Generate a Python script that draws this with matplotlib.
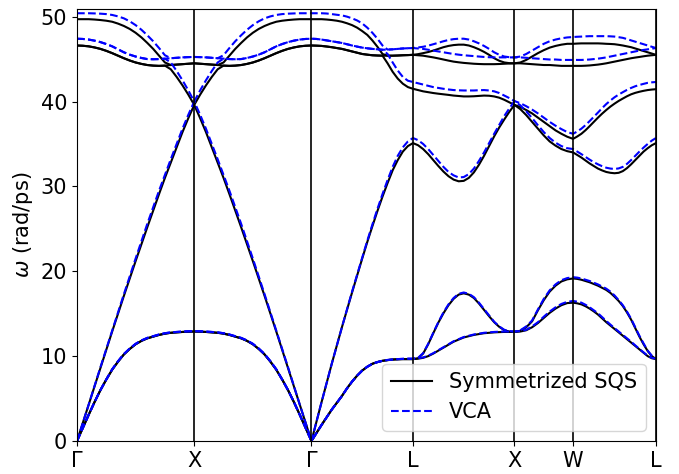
import numpy as np
import matplotlib
matplotlib.use("Agg")
import matplotlib.pyplot as plt

# high-symmetry path
labels = ["Γ", "X", "Γ", "L", "X", "W", "L"]
seg_lengths = [1.0, 1.0, 0.866, 0.866, 0.5, 0.707]
frac21 = [0.0, 0.05, 0.1, 0.15, 0.2, 0.25, 0.3, 0.35, 0.4, 0.45, 0.5,
          0.55, 0.6, 0.65, 0.7, 0.75, 0.8, 0.85, 0.9, 0.95, 1.0]
frac11 = [0.0, 0.1, 0.2, 0.3, 0.4, 0.5, 0.6, 0.7, 0.8, 0.9, 1.0]

# ---------------- Symmetrized SQS (black) ----------------
sqs_GX = [
    [0, 1.55, 3.1, 4.6, 6.0, 7.25, 8.4, 9.35, 10.2, 10.85, 11.4, 11.8, 12.1, 12.3, 12.5, 12.65, 12.75, 12.8, 12.85, 12.88, 12.9],
    [0, 1.55, 3.1, 4.6, 6.0, 7.25, 8.4, 9.35, 10.2, 10.85, 11.4, 11.8, 12.1, 12.3, 12.5, 12.65, 12.75, 12.8, 12.85, 12.88, 12.9],
    [0, 2.15, 4.3, 6.45, 8.6, 10.75, 12.9, 15.0, 17.1, 19.15, 21.2, 23.2, 25.2, 27.15, 29.1, 31.0, 32.8, 34.6, 36.4, 38.05, 39.6],
    [46.6, 46.57, 46.5, 46.37, 46.2, 45.97, 45.7, 45.4, 45.1, 44.83, 44.6, 44.43, 44.3, 44.23, 44.2, 44.23, 44.3, 44.35, 44.4, 44.45, 44.5],
    [46.6, 46.57, 46.5, 46.37, 46.2, 45.97, 45.7, 45.4, 45.1, 44.83, 44.6, 44.43, 44.3, 44.23, 44.2, 44.23, 44.3, 44.35, 44.4, 44.45, 44.5],
    [49.7, 49.7, 49.7, 49.66, 49.6, 49.52, 49.4, 49.18, 48.9, 48.55, 48.1, 47.55, 46.9, 46.2, 45.4, 44.6, 43.8, 42.9, 41.9, 40.8, 39.6],
]
sqs_XG = [
    [12.9, 12.88, 12.85, 12.8, 12.75, 12.65, 12.5, 12.3, 12.1, 11.8, 11.4, 10.85, 10.2, 9.35, 8.4, 7.25, 6.0, 4.6, 3.1, 1.55, 0],
    [12.9, 12.88, 12.85, 12.8, 12.75, 12.65, 12.5, 12.3, 12.1, 11.8, 11.4, 10.85, 10.2, 9.35, 8.4, 7.25, 6.0, 4.6, 3.1, 1.55, 0],
    [39.6, 38.05, 36.4, 34.6, 32.8, 31.0, 29.1, 27.15, 25.2, 23.2, 21.2, 19.15, 17.1, 15.0, 12.9, 10.75, 8.6, 6.45, 4.3, 2.15, 0],
    [44.5, 44.45, 44.4, 44.35, 44.3, 44.23, 44.2, 44.23, 44.3, 44.43, 44.6, 44.83, 45.1, 45.4, 45.7, 45.97, 46.2, 46.37, 46.5, 46.57, 46.6],
    [44.5, 44.45, 44.4, 44.35, 44.3, 44.23, 44.2, 44.23, 44.3, 44.43, 44.6, 44.83, 45.1, 45.4, 45.7, 45.97, 46.2, 46.37, 46.5, 46.57, 46.6],
    [39.6, 40.8, 41.9, 42.9, 43.8, 44.6, 45.4, 46.2, 46.9, 47.55, 48.1, 48.55, 48.9, 49.18, 49.4, 49.52, 49.6, 49.66, 49.7, 49.7, 49.7],
]
sqs_GL = [
    [0, 0.95, 1.9, 2.8, 3.7, 4.5, 5.3, 6.2, 7.0, 7.7, 8.3, 8.75, 9.1, 9.3, 9.45, 9.53, 9.6, 9.63, 9.65, 9.65, 9.65],
    [0, 0.95, 1.9, 2.8, 3.7, 4.5, 5.3, 6.2, 7.0, 7.7, 8.3, 8.75, 9.1, 9.3, 9.45, 9.53, 9.6, 9.63, 9.65, 9.65, 9.65],
    [0, 2.3, 4.6, 6.85, 9.1, 11.25, 13.4, 15.45, 17.5, 19.5, 21.5, 23.45, 25.3, 27.1, 28.8, 30.4, 31.9, 33.1, 34.1, 34.75, 35.1],
    [46.6, 46.58, 46.55, 46.48, 46.4, 46.3, 46.2, 46.05, 45.9, 45.75, 45.6, 45.52, 45.45, 45.42, 45.4, 45.4, 45.4, 45.42, 45.45, 45.47, 45.5],
    [46.6, 46.58, 46.55, 46.48, 46.4, 46.3, 46.2, 46.05, 45.9, 45.75, 45.6, 45.52, 45.45, 45.42, 45.4, 45.4, 45.4, 45.42, 45.45, 45.47, 45.5],
    [49.7, 49.7, 49.7, 49.66, 49.6, 49.52, 49.4, 49.22, 49.0, 48.7, 48.3, 47.85, 47.2, 46.45, 45.6, 44.5, 43.5, 42.7, 42.1, 41.7, 41.5],
]
sqs_LX = [
    [9.65, 9.75, 10.3, 11.4, 12.7, 13.95, 15.05, 16.0, 16.75, 17.25, 17.4, 17.25, 16.85, 16.2, 15.45, 14.7, 14.0, 13.45, 13.05, 12.9, 12.85],
    [9.65, 9.7, 9.8, 10.0, 10.3, 10.65, 11.0, 11.35, 11.7, 11.95, 12.2, 12.35, 12.5, 12.6, 12.7, 12.75, 12.8, 12.83, 12.85, 12.85, 12.85],
    [35.1, 34.85, 34.4, 33.8, 33.1, 32.4, 31.75, 31.2, 30.8, 30.6, 30.65, 31.0, 31.65, 32.55, 33.6, 34.75, 35.9, 36.95, 37.9, 38.8, 39.6],
    [41.5, 41.35, 41.2, 41.1, 41.0, 40.92, 40.85, 40.78, 40.7, 40.65, 40.6, 40.6, 40.62, 40.66, 40.7, 40.68, 40.6, 40.45, 40.2, 39.9, 39.6],
    [45.5, 45.58, 45.7, 45.83, 46.0, 46.2, 46.4, 46.55, 46.65, 46.7, 46.7, 46.6, 46.4, 46.15, 45.85, 45.5, 45.1, 44.8, 44.6, 44.52, 44.5],
    [45.5, 45.45, 45.4, 45.3, 45.2, 45.08, 44.95, 44.82, 44.7, 44.62, 44.55, 44.5, 44.45, 44.42, 44.4, 44.4, 44.4, 44.42, 44.45, 44.48, 44.5],
]
sqs_XW = [
    [12.85, 13.0, 13.4, 14.1, 15.4, 16.6, 17.6, 18.3, 18.8, 19.05, 19.15],
    [12.85, 12.9, 13.05, 13.4, 13.9, 14.5, 15.1, 15.6, 16.0, 16.25, 16.3],
    [39.6, 39.1, 38.4, 37.6, 36.8, 36.0, 35.3, 34.8, 34.4, 34.15, 34.0],
    [39.6, 39.35, 39.0, 38.6, 38.1, 37.6, 37.1, 36.6, 36.2, 35.85, 35.6],
    [44.5, 44.6, 44.9, 45.3, 45.7, 46.05, 46.35, 46.55, 46.7, 46.8, 46.8],
    [44.5, 44.5, 44.45, 44.4, 44.35, 44.3, 44.3, 44.25, 44.2, 44.2, 44.2],
]
sqs_WL = [
    [19.15, 19.1, 19.0, 18.85, 18.7, 18.5, 18.3, 18.05, 17.8, 17.45, 17.0, 16.5, 15.9, 15.15, 14.3, 13.3, 12.3, 11.4, 10.6, 10.0, 9.65],
    [16.3, 16.22, 16.1, 15.88, 15.6, 15.27, 14.9, 14.45, 14.0, 13.6, 13.2, 12.8, 12.4, 12.0, 11.6, 11.2, 10.8, 10.4, 10.0, 9.75, 9.65],
    [34.0, 33.7, 33.4, 33.05, 32.7, 32.4, 32.1, 31.88, 31.7, 31.6, 31.55, 31.6, 31.8, 32.15, 32.6, 33.1, 33.6, 34.1, 34.5, 34.85, 35.1],
    [35.6, 35.88, 36.2, 36.62, 37.1, 37.6, 38.1, 38.57, 39.0, 39.4, 39.75, 40.07, 40.35, 40.62, 40.85, 41.02, 41.15, 41.26, 41.35, 41.41, 41.45],
    [46.8, 46.83, 46.85, 46.85, 46.85, 46.85, 46.85, 46.83, 46.8, 46.78, 46.75, 46.68, 46.6, 46.5, 46.4, 46.25, 46.1, 45.95, 45.8, 45.65, 45.5],
    [44.2, 44.2, 44.2, 44.22, 44.25, 44.3, 44.35, 44.42, 44.5, 44.6, 44.7, 44.8, 44.9, 45.0, 45.1, 45.18, 45.25, 45.33, 45.4, 45.45, 45.5],
]

# ---------------- VCA (blue dashed) ----------------
vca_GX = [
    [0, 1.55, 3.1, 4.6, 6.0, 7.25, 8.45, 9.4, 10.25, 10.9, 11.45, 11.85, 12.15, 12.35, 12.55, 12.7, 12.8, 12.85, 12.9, 12.93, 12.95],
    [0, 1.55, 3.1, 4.6, 6.0, 7.25, 8.45, 9.4, 10.25, 10.9, 11.45, 11.85, 12.15, 12.35, 12.55, 12.7, 12.8, 12.85, 12.9, 12.93, 12.95],
    [0, 2.15, 4.3, 6.5, 8.7, 10.85, 13.0, 15.15, 17.3, 19.4, 21.5, 23.55, 25.6, 27.55, 29.5, 31.35, 33.2, 35.0, 36.8, 38.45, 40.0],
    [47.4, 47.37, 47.3, 47.17, 47.0, 46.77, 46.5, 46.15, 45.8, 45.52, 45.3, 45.13, 45.0, 44.98, 45.0, 45.05, 45.1, 45.15, 45.2, 45.23, 45.25],
    [47.4, 47.37, 47.3, 47.17, 47.0, 46.77, 46.5, 46.15, 45.8, 45.52, 45.3, 45.13, 45.0, 44.98, 45.0, 45.05, 45.1, 45.15, 45.2, 45.23, 45.25],
    [50.4, 50.4, 50.4, 50.38, 50.35, 50.3, 50.2, 50.03, 49.8, 49.45, 49.0, 48.45, 47.8, 47.1, 46.3, 45.45, 44.6, 43.6, 42.5, 41.3, 40.0],
]
vca_XG = [
    [12.95, 12.93, 12.9, 12.85, 12.8, 12.7, 12.55, 12.35, 12.15, 11.85, 11.45, 10.9, 10.25, 9.4, 8.45, 7.25, 6.0, 4.6, 3.1, 1.55, 0],
    [12.95, 12.93, 12.9, 12.85, 12.8, 12.7, 12.55, 12.35, 12.15, 11.85, 11.45, 10.9, 10.25, 9.4, 8.45, 7.25, 6.0, 4.6, 3.1, 1.55, 0],
    [40.0, 38.45, 36.8, 35.0, 33.2, 31.35, 29.5, 27.55, 25.6, 23.55, 21.5, 19.4, 17.3, 15.15, 13.0, 10.85, 8.7, 6.5, 4.3, 2.15, 0],
    [45.25, 45.23, 45.2, 45.15, 45.1, 45.05, 45.0, 44.98, 45.0, 45.13, 45.3, 45.52, 45.8, 46.15, 46.5, 46.77, 47.0, 47.17, 47.3, 47.37, 47.4],
    [45.25, 45.23, 45.2, 45.15, 45.1, 45.05, 45.0, 44.98, 45.0, 45.13, 45.3, 45.52, 45.8, 46.15, 46.5, 46.77, 47.0, 47.17, 47.3, 47.37, 47.4],
    [40.0, 41.3, 42.5, 43.6, 44.6, 45.45, 46.3, 47.1, 47.8, 48.45, 49.0, 49.45, 49.8, 50.03, 50.2, 50.3, 50.35, 50.38, 50.4, 50.4, 50.4],
]
vca_GL = [
    [0, 0.95, 1.9, 2.8, 3.7, 4.5, 5.3, 6.2, 7.0, 7.7, 8.3, 8.75, 9.1, 9.3, 9.45, 9.55, 9.6, 9.65, 9.68, 9.7, 9.7],
    [0, 0.95, 1.9, 2.8, 3.7, 4.5, 5.3, 6.2, 7.0, 7.7, 8.3, 8.75, 9.1, 9.3, 9.45, 9.55, 9.6, 9.65, 9.68, 9.7, 9.7],
    [0, 2.3, 4.6, 6.85, 9.1, 11.25, 13.4, 15.5, 17.6, 19.6, 21.6, 23.6, 25.5, 27.35, 29.1, 30.75, 32.3, 33.6, 34.6, 35.3, 35.7],
    [47.4, 47.37, 47.3, 47.2, 47.1, 47.0, 46.9, 46.75, 46.6, 46.47, 46.35, 46.27, 46.2, 46.15, 46.1, 46.12, 46.15, 46.2, 46.25, 46.28, 46.3],
    [47.4, 47.37, 47.3, 47.2, 47.1, 47.0, 46.9, 46.75, 46.6, 46.47, 46.35, 46.27, 46.2, 46.15, 46.1, 46.12, 46.15, 46.2, 46.25, 46.28, 46.3],
    [50.4, 50.4, 50.4, 50.37, 50.3, 50.22, 50.15, 50.0, 49.8, 49.55, 49.2, 48.7, 48.1, 47.4, 46.6, 45.6, 44.6, 43.65, 42.9, 42.45, 42.3],
]
vca_LX = [
    [9.7, 9.8, 10.35, 11.45, 12.75, 14.0, 15.15, 16.1, 16.85, 17.35, 17.5, 17.35, 16.95, 16.3, 15.55, 14.8, 14.05, 13.5, 13.1, 12.95, 12.9],
    [9.7, 9.75, 9.85, 10.05, 10.35, 10.7, 11.05, 11.4, 11.75, 12.0, 12.25, 12.4, 12.55, 12.65, 12.75, 12.8, 12.85, 12.88, 12.9, 12.9, 12.9],
    [35.7, 35.45, 35.0, 34.4, 33.7, 33.0, 32.3, 31.7, 31.3, 31.05, 31.1, 31.45, 32.1, 33.0, 34.0, 35.1, 36.2, 37.25, 38.3, 39.2, 40.05],
    [42.3, 42.15, 42.0, 41.85, 41.7, 41.6, 41.5, 41.42, 41.35, 41.32, 41.3, 41.3, 41.3, 41.33, 41.35, 41.3, 41.2, 41.0, 40.7, 40.4, 40.05],
    [46.3, 46.37, 46.45, 46.58, 46.75, 46.92, 47.1, 47.25, 47.35, 47.4, 47.4, 47.3, 47.1, 46.85, 46.55, 46.2, 45.8, 45.5, 45.3, 45.22, 45.2],
    [46.3, 46.25, 46.2, 46.1, 46.0, 45.9, 45.8, 45.7, 45.6, 45.52, 45.45, 45.4, 45.35, 45.3, 45.25, 45.22, 45.2, 45.2, 45.2, 45.2, 45.2],
]
vca_XW = [
    [12.9, 13.05, 13.5, 14.2, 15.5, 16.75, 17.75, 18.45, 18.95, 19.2, 19.3],
    [12.9, 12.95, 13.1, 13.5, 14.0, 14.65, 15.25, 15.75, 16.15, 16.4, 16.5],
    [40.05, 39.55, 38.85, 38.05, 37.2, 36.4, 35.7, 35.15, 34.75, 34.5, 34.4],
    [40.05, 39.8, 39.45, 39.05, 38.6, 38.1, 37.6, 37.15, 36.75, 36.4, 36.2],
    [45.2, 45.3, 45.6, 46.0, 46.4, 46.8, 47.1, 47.3, 47.45, 47.55, 47.6],
    [45.2, 45.2, 45.15, 45.1, 45.05, 45.0, 44.95, 44.95, 44.9, 44.9, 44.9],
]
vca_WL = [
    [19.3, 19.25, 19.15, 19.0, 18.85, 18.65, 18.45, 18.2, 17.95, 17.6, 17.15, 16.6, 16.0, 15.25, 14.4, 13.4, 12.4, 11.5, 10.65, 10.05, 9.7],
    [16.5, 16.42, 16.3, 16.05, 15.75, 15.4, 15.05, 14.6, 14.15, 13.72, 13.3, 12.9, 12.5, 12.1, 11.7, 11.27, 10.85, 10.45, 10.05, 9.8, 9.7],
    [34.4, 34.1, 33.8, 33.47, 33.15, 32.85, 32.6, 32.38, 32.2, 32.1, 32.05, 32.12, 32.3, 32.65, 33.1, 33.6, 34.1, 34.57, 35.0, 35.4, 35.7],
    [36.2, 36.47, 36.8, 37.22, 37.7, 38.2, 38.7, 39.22, 39.7, 40.12, 40.5, 40.82, 41.1, 41.37, 41.6, 41.8, 41.95, 42.08, 42.2, 42.26, 42.3],
    [47.6, 47.63, 47.65, 47.68, 47.7, 47.7, 47.7, 47.7, 47.7, 47.68, 47.65, 47.58, 47.5, 47.36, 47.2, 47.05, 46.9, 46.75, 46.6, 46.45, 46.3],
    [44.9, 44.9, 44.9, 44.92, 44.95, 45.0, 45.05, 45.12, 45.2, 45.3, 45.4, 45.5, 45.6, 45.7, 45.8, 45.9, 46.0, 46.08, 46.15, 46.23, 46.3],
]

sqs_segments = [sqs_GX, sqs_XG, sqs_GL, sqs_LX, sqs_XW, sqs_WL]
vca_segments = [vca_GX, vca_XG, vca_GL, vca_LX, vca_XW, vca_WL]
seg_fracs = [frac21, frac21, frac21, frac21, frac11, frac21]

# k-axis
ticks = np.concatenate([[0.0], np.cumsum(seg_lengths)])
kx = np.concatenate([ticks[i] + np.array(seg_fracs[i]) * seg_lengths[i]
                     for i in range(len(seg_lengths))])


def bands(segments):
    # order branches into bands at each q-point, as a phonon code would
    arrs = [np.sort(np.array(s, dtype=float), axis=0) for s in segments]
    return np.concatenate(arrs, axis=1)


sqs_bands = bands(sqs_segments)
vca_bands = bands(vca_segments)

fig = plt.figure(figsize=(6.79, 4.74), dpi=100)
ax = fig.add_axes([0.1134, 0.0696, 0.8527, 0.9114])

for i, b in enumerate(sqs_bands):
    ax.plot(kx, b, color="black", lw=1.5, label="Symmetrized SQS" if i == 0 else None)
for i, b in enumerate(vca_bands):
    ax.plot(kx, b, color="blue", lw=1.5, ls="--", label="VCA" if i == 0 else None)

for t in ticks[1:]:
    ax.axvline(t, color="black", lw=1.2)

ax.set_xlim(ticks[0], ticks[-1])
ax.set_ylim(0, 50.9)
ax.set_xticks(ticks)
ax.set_xticklabels(labels)
ax.set_yticks([0, 10, 20, 30, 40, 50])
ax.tick_params(labelsize=15)
ax.set_ylabel(r"$\omega$ (rad/ps)", fontsize=15)
ax.legend(loc="lower right", fontsize=15)

fig.savefig("out.png", dpi=100)
